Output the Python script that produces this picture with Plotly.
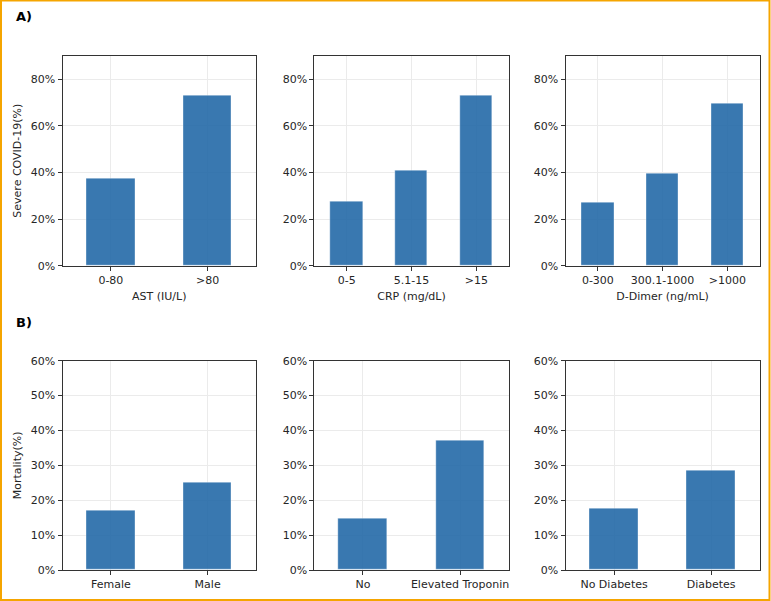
import plotly.graph_objects as go

# ---- data ----
ast_cats = ["0-80", ">80"]
ast_vals = [0.373, 0.728]
crp_cats = ["0-5", "5.1-15", ">15"]
crp_vals = [0.276, 0.408, 0.728]
dd_cats = ["0-300", "300.1-1000", ">1000"]
dd_vals = [0.272, 0.395, 0.694]
sex_cats = ["Female", "Male"]
sex_vals = [0.169, 0.251]
trop_cats = ["No", "Elevated Troponin"]
trop_vals = [0.148, 0.372]
diab_cats = ["No Diabetes", "Diabetes"]
diab_vals = [0.176, 0.286]

x_titles_a = ["AST (IU/L)", "CRP (mg/dL)", "D-Dimer (ng/mL)"]
y_title_a = "Severe COVID-19(%)"
y_title_b = "Mortality(%)"

W, H = 771, 601
FONT = "DejaVu Sans"
BAR = "rgba(36,105,167,0.9)"
GRID = "#ebebeb"
FRAME = "#333333"

fig = go.Figure()

xdoms = [(62.5, 256.0), (314.3, 508.7), (565.5, 759.7)]
ydomA = (1 - 265.7 / H, 1 - 55.7 / H)
ydomB = (1 - 570.0 / H, 1 - 360.7 / H)

panels = [
    (ast_cats, ast_vals, 0, ydomA, [0, 0.9], 0.2, x_titles_a[0], y_title_a),
    (crp_cats, crp_vals, 1, ydomA, [0, 0.9], 0.2, x_titles_a[1], None),
    (dd_cats, dd_vals, 2, ydomA, [0, 0.9], 0.2, x_titles_a[2], None),
    (sex_cats, sex_vals, 0, ydomB, [0, 0.6], 0.1, None, y_title_b),
    (trop_cats, trop_vals, 1, ydomB, [0, 0.6], 0.1, None, None),
    (diab_cats, diab_vals, 2, ydomB, [0, 0.6], 0.1, None, None),
]

for i, (cats, vals, col, ydom, yr, dt, xt, yt) in enumerate(panels, start=1):
    xa = "x" if i == 1 else f"x{i}"
    ya = "y" if i == 1 else f"y{i}"
    fig.add_trace(go.Bar(
        x=cats, y=vals, xaxis=xa, yaxis=ya, width=0.5,
        marker=dict(color=BAR, line=dict(color="rgba(255,255,255,0.35)", width=1)),
        showlegend=False, hoverinfo="x+y",
    ))
    xd = xdoms[col]
    axis_common = dict(
        showline=True, mirror=True, linecolor=FRAME, linewidth=1,
        ticks="outside", ticklen=4, tickcolor=FRAME, tickwidth=1,
        showgrid=True, gridcolor=GRID, gridwidth=1, zeroline=False,
        tickfont=dict(family=FONT, size=11, color="#262626"),
        layer="above traces", automargin=False,
    )
    fig.update_layout({
        ("xaxis" if i == 1 else f"xaxis{i}"): dict(
            domain=[xd[0] / W, xd[1] / W], anchor=ya,
            type="category", range=[-0.5, len(cats) - 0.5],
            title=dict(text=xt, font=dict(family=FONT, size=11, color="#262626"), standoff=6) if xt else None,
            **axis_common,
        ),
        ("yaxis" if i == 1 else f"yaxis{i}"): dict(
            domain=list(ydom), anchor=xa, range=yr, dtick=dt, tick0=0,
            tickformat=".0%",
            title=dict(text=yt, font=dict(family=FONT, size=11, color="#262626"), standoff=6) if yt else None,
            **axis_common,
        ),
    })

fig.add_annotation(text="<b>A)</b>", x=14 / W, y=1 - 17 / H, xref="paper", yref="paper",
                   xanchor="left", yanchor="middle", showarrow=False,
                   font=dict(family=FONT, size=13, color="black"))
fig.add_annotation(text="<b>B)</b>", x=14 / W, y=1 - 322 / H, xref="paper", yref="paper",
                   xanchor="left", yanchor="middle", showarrow=False,
                   font=dict(family=FONT, size=13, color="black"))

# orange frame around the figure
fig.add_shape(type="rect", xref="paper", yref="paper",
              x0=1 / W, x1=1 - 1.5 / W, y0=1 / H, y1=1 - 0.5 / H,
              line=dict(color="#f5a500", width=2), fillcolor="rgba(0,0,0,0)", layer="above")

fig.update_layout(
    width=W, height=H, margin=dict(l=0, r=0, t=0, b=0, autoexpand=False),
    paper_bgcolor="white", plot_bgcolor="white",
    font=dict(family=FONT, size=11, color="#262626"),
    bargap=0, autosize=False,
)

fig.write_html(
    "out.html",
    config={"displayModeBar": False, "responsive": False},
    post_script="document.body.style.margin='0';document.body.style.padding='0';document.body.style.overflow='hidden';window.scrollTo(0,0);",
)
